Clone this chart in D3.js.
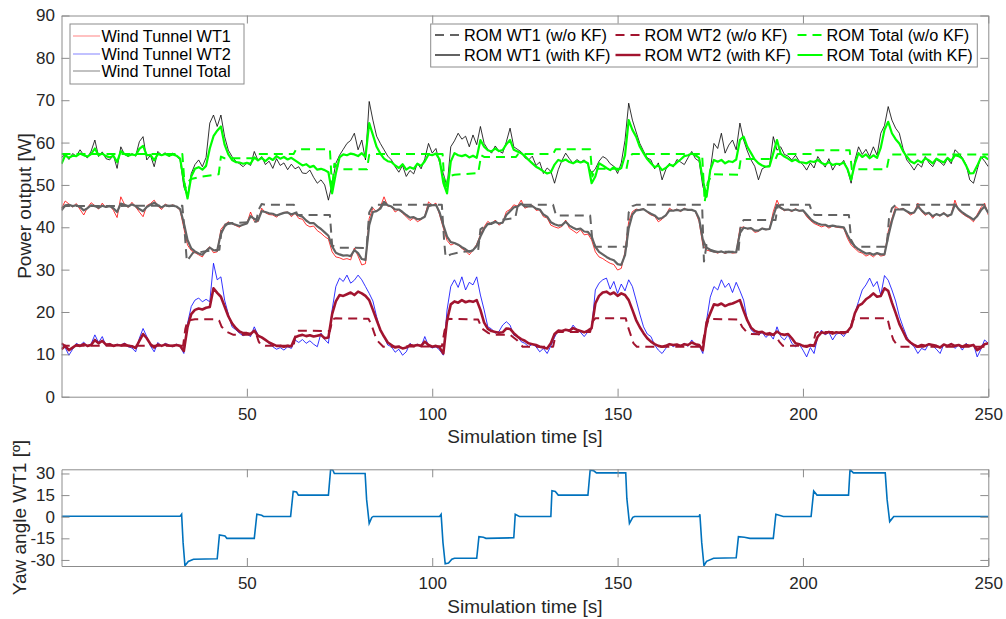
<!DOCTYPE html>
<html>
<head>
<meta charset="utf-8">
<script src="https://cdn.jsdelivr.net/npm/d3@7"></script>
<style>
body { margin: 0; background: #fff; }
text { font-family: Arial, "Liberation Sans", Helvetica, sans-serif; }
</style>
</head>
<body>
<div id="chart"></div>
<script>
// sample times of the measured / filtered signals (1 s)
const time = d3.range(0, 251);

const xTicks = [50, 100, 150, 200, 250];
const powerTicks = [0, 10, 20, 30, 40, 50, 60, 70, 80, 90];
const yawTicks = [-30, -15, 0, 15, 30];

// wind tunnel measurements
const wt1Tunnel = [
44.5,46.2,45.5,44.8,45.6,44.2,42.9,44.6,45.8,45.1,
44.3,45.7,44.6,45.2,44.0,42.3,47.2,45.4,44.7,45.9,
44.8,43.6,42.5,45.1,45.6,46.4,45.0,44.2,45.5,44.9,
45.3,44.8,44.0,39.8,35.8,34.5,34.0,33.5,33.0,34.6,
35.4,34.0,34.2,39.5,40.6,41.3,40.8,40.4,40.0,40.7,
40.9,43.6,41.4,41.3,44.5,43.4,43.0,42.9,42.4,43.1,
43.5,43.6,42.5,43.3,42.1,41.9,40.6,40.1,40.3,39.2,
38.6,37.8,37.2,34.2,33.0,32.8,32.4,32.6,32.3,35.1,
33.2,31.1,31.4,42.1,44.5,43.7,44.8,47.2,45.0,44.9,
43.6,44.2,43.3,42.5,41.6,42.2,41.3,41.8,42.6,46.0,
45.2,45.7,42.9,39.8,36.9,35.8,36.2,35.8,35.0,34.4,
33.5,34.6,36.0,38.2,40.1,41.4,40.7,41.7,40.5,41.1,
43.7,44.2,45.3,45.0,46.4,44.5,44.9,45.2,44.0,44.1,
42.5,42.2,40.5,40.1,39.8,40.2,41.7,39.8,39.2,38.6,
39.4,38.2,38.4,37.0,34.2,33.0,32.6,32.0,31.5,31.2,
29.9,30.3,34.2,41.3,43.7,44.3,44.1,44.4,43.5,42.9,
42.6,41.3,41.9,42.8,44.5,43.9,44.3,43.7,44.5,44.0,
44.2,43.7,41.3,35.8,34.6,34.4,34.2,33.9,34.3,33.8,
34.2,33.9,34.0,39.8,40.1,39.6,39.8,38.8,39.0,39.8,
39.4,39.6,43.7,46.4,44.5,43.9,44.2,43.7,44.4,43.8,
44.0,42.5,41.6,40.9,40.5,40.1,40.4,39.8,40.3,40.0,
39.9,39.8,37.4,35.8,35.0,34.2,33.9,33.2,33.6,33.0,
33.8,33.2,33.4,39.0,42.1,44.9,44.2,44.5,43.6,42.9,
43.4,45.7,43.7,42.8,43.4,42.1,43.2,42.6,43.5,42.4,
43.1,46.4,44.0,43.2,42.6,42.1,41.3,43.0,44.6,45.7,
42.9];

const wt2Tunnel = [
12.4,11.6,9.8,11.2,12.6,12.1,12.9,11.8,12.5,14.6,
12.8,14.2,12.0,12.6,11.9,12.4,12.1,12.7,11.8,11.5,
10.6,13.8,16.1,14.2,12.0,10.6,12.8,11.9,12.6,12.2,
11.8,12.4,11.9,10.2,17.3,21.3,22.8,23.3,22.4,23.0,
22.4,31.5,27.6,28.3,22.8,19.5,16.5,15.8,15.0,14.4,
14.8,14.2,16.5,14.6,14.0,13.4,12.6,11.8,11.2,11.6,
11.0,11.8,11.4,13.4,12.8,13.5,12.6,13.2,12.4,11.8,
15.0,13.5,12.6,20.5,26.0,28.0,27.2,28.7,26.8,27.5,
28.7,27.6,26.0,24.4,22.6,18.9,15.6,14.2,12.2,11.8,
10.5,11.2,9.8,10.6,12.6,11.9,12.4,11.8,14.2,12.0,
11.5,11.8,11.0,9.8,20.5,26.0,27.6,25.8,28.3,25.2,
27.0,26.4,28.3,24.0,20.5,16.5,16.0,15.0,15.4,16.9,
17.7,16.9,14.5,14.2,13.0,12.6,11.8,12.4,11.8,10.6,
11.4,10.2,12.0,14.0,15.7,15.2,15.9,15.4,16.9,15.8,
15.2,14.2,15.3,16.0,25.2,26.8,27.6,28.0,25.4,27.2,
24.4,26.6,25.0,27.6,26.0,22.8,19.5,16.5,14.8,14.2,
12.2,11.0,10.2,11.4,12.6,11.8,12.4,12.0,12.6,11.9,
13.4,12.2,12.0,10.2,18.0,23.5,26.0,25.2,27.6,25.8,
26.8,24.6,27.0,25.0,22.8,18.1,15.8,15.0,14.6,15.2,
14.0,14.8,13.6,16.5,14.2,13.4,14.6,12.6,11.8,12.4,
11.0,9.4,11.6,10.2,14.2,15.7,14.6,15.2,13.4,14.8,
15.0,14.2,15.6,16.5,19.7,22.5,25.2,26.4,28.0,26.0,
27.2,24.0,28.6,27.5,25.2,22.6,19.0,16.5,14.2,12.6,
11.8,10.2,11.4,11.0,12.6,12.0,11.2,10.2,12.4,11.8,
12.6,11.4,12.2,11.0,12.6,11.8,12.4,9.4,11.2,13.4,
12.6];

const totalTunnel = [
56.5,57.2,56.0,57.4,56.8,58.3,57.0,56.4,58.0,60.6,
56.7,57.8,56.2,55.9,57.0,53.9,59.0,57.2,56.7,57.4,
56.8,60.2,61.4,55.9,57.0,54.3,57.9,57.0,57.6,56.7,
57.5,56.9,55.9,49.6,47.2,52.7,54.8,55.9,54.3,56.5,
64.6,66.5,63.8,66.5,61.4,58.2,56.7,55.6,55.0,54.3,
55.2,54.6,57.9,55.8,56.7,54.8,55.6,53.9,56.2,54.6,
55.2,53.6,54.9,53.8,54.3,52.8,52.7,53.5,51.8,50.4,
51.2,50.0,46.4,50.2,55.1,57.0,58.4,59.8,60.5,62.2,
58.3,60.6,55.9,69.7,65.3,61.5,59.8,58.3,56.8,55.9,
54.3,53.0,54.6,52.0,53.4,52.6,55.1,53.8,56.2,59.8,
57.5,58.6,55.2,52.7,49.6,59.0,60.4,62.2,60.8,61.5,
59.0,61.8,59.5,63.8,59.8,58.4,57.5,59.2,58.0,57.5,
60.2,63.4,59.0,58.4,57.8,56.4,55.9,56.8,54.6,55.4,
52.7,54.0,53.2,50.4,53.6,55.8,57.5,56.2,55.1,56.0,
55.4,55.9,54.8,52.7,53.8,55.6,56.7,56.2,55.0,54.4,
52.7,55.2,60.5,69.3,65.3,62.5,59.8,58.0,56.4,55.9,
53.8,55.2,51.2,53.6,55.1,54.2,56.0,55.4,54.8,56.4,
57.9,56.2,55.6,49.6,47.2,53.5,59.8,58.6,62.2,57.5,
59.4,60.6,58.3,64.6,60.6,58.0,55.9,54.4,51.2,53.8,
54.3,54.6,61.4,58.2,59.0,57.2,56.8,55.9,57.0,55.6,
54.8,53.5,55.2,54.0,56.7,55.4,54.2,56.2,53.5,55.0,
54.6,55.8,53.6,50.4,55.8,59.0,57.2,58.4,56.7,59.0,
57.0,62.2,64.0,68.5,65.3,63.4,62.2,58.6,55.9,54.8,
53.5,55.0,54.2,56.7,55.2,54.3,56.0,55.4,54.6,56.2,
55.0,58.3,57.5,56.4,54.8,51.2,50.4,53.6,56.7,55.6,
54.3];

// ROM with Kalman filter
const wt1KF = [
44.0,45.2,45.3,45.0,45.2,44.8,44.0,44.5,45.2,45.0,
44.6,45.1,44.8,45.0,44.5,43.6,45.6,45.3,44.9,45.4,
45.0,44.3,43.8,44.8,45.3,45.8,45.2,44.7,45.2,45.0,
45.1,44.9,44.3,41.0,37.0,35.0,34.3,33.8,33.5,34.4,
35.2,34.6,34.5,38.5,40.2,41.0,40.9,40.6,40.3,40.6,
40.9,42.6,42.0,41.6,43.8,43.6,43.3,43.2,42.8,43.1,
43.4,43.5,43.0,43.4,42.8,42.5,41.6,41.0,41.0,40.2,
39.6,38.8,38.0,35.5,34.0,33.6,33.3,33.4,33.2,34.6,
33.9,32.5,32.3,40.5,43.6,43.8,44.4,46.0,45.2,44.9,
44.2,44.2,43.6,42.9,42.3,42.4,41.9,42.0,42.5,45.0,
45.2,45.3,43.5,40.5,37.8,36.5,36.3,35.9,35.3,34.8,
34.2,34.6,35.6,37.8,39.6,40.8,40.8,41.3,40.9,41.1,
42.9,43.8,44.7,44.9,45.6,44.9,44.9,45.0,44.4,44.2,
43.0,42.5,41.2,40.7,40.4,40.5,41.3,40.4,39.9,39.5,
39.7,39.0,38.9,37.8,35.4,34.2,33.6,33.0,32.5,32.2,
31.3,31.1,33.4,39.8,43.0,44.0,44.1,44.3,43.7,43.2,
42.8,42.0,42.2,42.8,44.0,43.9,44.1,43.9,44.3,44.1,
44.1,43.8,42.0,37.0,35.2,34.7,34.4,34.1,34.3,34.0,
34.2,34.1,34.1,38.6,39.9,39.7,39.8,39.2,39.2,39.7,
39.5,39.6,42.6,45.3,44.6,44.1,44.2,43.9,44.2,43.9,
44.0,43.0,42.0,41.3,40.9,40.6,40.6,40.2,40.4,40.2,
40.1,40.0,38.2,36.5,35.5,34.8,34.3,33.8,33.9,33.5,
33.9,33.6,33.6,37.8,41.5,44.2,44.2,44.3,43.8,43.3,
43.5,44.9,44.0,43.2,43.4,42.6,43.1,42.8,43.3,42.7,
43.0,45.4,44.3,43.5,42.9,42.4,41.8,42.6,44.0,44.9,
43.4];

const wt2KF = [
11.2,12.0,11.0,11.6,12.2,12.0,12.4,12.0,12.2,13.4,
12.6,13.2,12.3,12.4,12.0,12.2,12.1,12.4,12.0,11.9,
11.5,13.2,14.8,13.8,12.4,11.6,12.3,12.0,12.3,12.1,
12.0,12.2,12.0,10.8,16.5,19.5,20.5,20.8,20.6,21.0,
21.2,25.6,24.5,23.6,21.3,19.0,17.3,16.2,15.4,15.0,
15.0,14.8,15.6,14.4,14.0,13.4,12.8,12.4,12.0,12.0,
11.8,12.0,11.9,14.0,14.4,14.6,14.3,14.5,14.2,14.4,
14.6,13.8,14.0,19.5,22.5,24.0,23.8,24.2,24.6,24.0,
24.8,24.4,23.8,22.8,20.5,18.1,15.8,14.2,12.8,12.2,
11.6,11.8,11.4,11.6,12.2,12.0,12.2,12.0,13.0,12.2,
11.8,12.0,11.6,10.2,18.0,21.8,22.5,22.2,22.8,22.3,
22.6,22.4,22.8,20.5,17.5,16.0,15.5,15.3,15.1,15.2,
16.1,16.0,15.0,14.2,13.6,13.2,12.6,12.4,12.2,11.8,
11.6,11.4,12.6,14.8,15.6,15.5,15.8,15.6,16.2,15.8,
15.5,15.2,15.6,16.2,22.0,23.8,24.6,24.8,24.2,24.6,
23.8,24.4,24.0,22.8,20.5,18.1,16.4,15.0,13.8,13.0,
12.4,12.0,11.8,12.0,12.4,12.2,12.3,12.0,12.4,12.2,
12.8,12.4,12.2,11.0,17.5,19.7,21.8,21.6,22.0,21.4,
21.8,22.0,22.4,22.8,20.3,18.0,16.3,15.5,15.2,15.3,
14.8,15.0,14.6,15.4,14.8,14.6,14.8,13.8,12.6,12.4,
12.0,11.8,12.2,12.0,14.2,15.2,15.0,15.3,14.9,15.2,
15.1,15.0,15.4,16.5,19.7,21.5,22.0,23.0,23.6,24.4,
23.6,23.8,25.6,25.0,22.2,19.8,17.2,15.4,13.6,12.8,
12.2,11.8,12.2,12.0,12.4,12.2,12.0,11.6,12.3,12.0,
12.4,12.0,12.2,11.8,12.2,12.0,12.2,11.0,11.6,12.4,
12.6];

const totalKF = [
55.0,57.0,56.4,56.9,56.8,57.4,57.0,56.7,57.3,58.6,
57.0,57.4,56.8,56.5,56.9,55.4,58.0,57.3,56.9,57.2,
57.0,58.5,59.2,57.0,57.1,55.8,57.3,57.0,57.3,56.9,
57.2,56.9,56.2,51.0,46.8,52.0,53.8,54.2,53.6,54.5,
58.6,61.5,62.8,63.8,59.5,57.2,55.9,55.4,55.3,55.0,
55.2,55.0,56.5,55.8,56.4,55.6,56.4,55.9,56.8,56.2,
56.6,56.0,56.4,55.8,55.2,54.6,54.9,54.2,54.5,53.6,
53.8,53.5,53.0,48.0,52.7,56.5,57.2,57.0,57.4,57.2,
56.8,57.5,56.6,64.6,61.8,59.0,57.4,56.2,55.6,55.4,
54.6,54.0,54.9,53.6,54.2,53.8,55.0,54.5,55.6,57.2,
57.0,57.4,56.0,50.5,48.0,55.5,57.5,57.0,56.8,57.1,
56.5,56.9,56.4,60.6,59.0,58.2,57.9,58.6,58.0,58.2,
59.6,60.6,58.3,57.9,57.5,56.8,55.9,55.1,54.3,53.8,
53.2,52.7,53.0,54.8,55.9,55.6,56.0,55.4,55.1,55.6,
55.3,55.6,55.1,50.4,52.0,55.1,54.6,54.0,53.5,54.2,
53.5,54.0,57.0,65.3,63.0,61.4,59.0,57.5,56.1,55.1,
54.2,54.6,53.5,54.0,54.8,54.5,55.3,56.0,56.8,57.0,
57.4,57.0,56.4,51.2,47.2,53.5,55.9,55.5,55.9,55.1,
55.6,55.4,56.0,60.6,61.4,59.0,57.5,56.0,55.1,54.6,
54.3,54.4,57.5,60.6,57.4,56.7,56.2,55.6,56.0,55.4,
55.3,55.1,55.6,55.4,55.9,55.2,54.8,55.4,54.7,55.0,
54.9,55.3,53.8,51.2,55.0,57.5,56.6,57.2,56.3,57.0,
56.4,58.8,63.0,64.9,62.2,60.8,59.8,58.0,56.7,55.6,
55.1,55.8,55.3,56.3,55.8,55.1,56.2,55.7,55.3,56.4,
55.7,57.0,56.8,56.2,54.6,52.7,52.8,54.5,56.4,56.7,
56.0];

// ROM without Kalman filter (breakpoints: time, value)
const wt1NoKFTime = [0,1,32.6,33.3,33.8,35.5,38,41,42.6,43.2,44,46,52.5,53.2,54,55,62.7,63.6,72.4,73,74,82.3,83,84,85,102.6,103.2,103.6,105,108,112.4,113,114,116,119,122.4,123,124,132.6,133.4,142.6,143.2,144,152.4,153,154,155,172.8,173.3,174,175,176,182.6,183.2,184,192.6,193.2,194,201.8,202.6,203.2,212.4,213,214,222.6,223.2,224,225,250];
const wt1NoKFValue = [44.5,45.0,45.1,38.0,32.0,34.0,34.2,34.6,34.7,39.5,40.6,41.0,41.3,44.2,45.5,45.3,45.3,42.9,42.9,35.8,35.2,35.1,43.5,45.0,45.3,45.3,37.0,33.0,33.6,34.2,34.6,39.5,40.2,41.0,41.8,42.2,44.8,45.3,45.3,42.8,42.8,36.8,35.4,35.4,43.5,45.0,45.3,45.3,31.9,35.8,34.5,34.2,34.2,40.5,41.7,41.7,45.0,45.3,45.3,43.2,42.9,42.9,37.0,35.4,35.4,42.0,44.5,45.3,45.3];

const wt2NoKFTime = [0,1,32.8,33.4,34,36,42,42.5,43.2,44.6,46.4,52.6,53.2,53.8,55,62.6,63.3,64,72.4,73.1,74,82.8,83.6,85,86.8,102.6,103.3,104.2,112.4,113.4,115.2,116.5,121,122.8,124.4,132.6,133.4,134,142.6,143.3,144,152.2,152.8,154.3,155.2,172.8,173.6,174.6,182.6,183.6,184.8,186,192.6,193.6,194.6,202.6,203.4,204,212.6,213.4,214,222.8,223.6,224.4,225.4,226.3,250];
const wt2NoKFValue = [12.6,12.0,12.0,16.0,18.0,18.3,18.3,18.0,16.5,15.3,14.6,14.6,13.0,12.2,12.0,12.0,15.4,15.6,15.5,18.3,18.5,18.4,17.0,13.4,11.8,11.9,15.5,18.4,18.2,16.1,15.0,14.6,14.6,13.4,11.8,11.8,15.0,15.3,15.3,17.8,18.5,18.5,16.5,12.6,11.8,11.8,15.5,18.4,18.2,16.5,15.3,14.8,14.6,13.0,12.0,12.0,15.0,15.3,15.3,18.0,18.5,18.5,15.5,13.4,12.2,11.8,11.8];

const totalNoKFTime = [0,32.6,33.3,34,35,38,42.4,43,44,52.6,53.2,62.6,63.3,72.4,73,73.6,75,76,82.4,83,84,102.8,103.4,104.4,106,112.4,113.2,114,122.6,123.2,132.6,133.3,142.6,143.2,144,152.4,153,154,172.8,173.5,174.3,175.5,182.6,183.2,184,192.6,193.2,202.4,203,212.6,213.2,222.6,223.2,224,250];
const totalNoKFValue = [57.3,57.3,49.0,50.6,51.4,52.0,52.5,56.7,56.3,56.3,57.3,57.3,58.4,58.4,49.0,55.0,54.0,53.7,53.7,57.1,57.3,57.3,48.8,52.0,52.4,52.8,57.0,56.6,56.6,57.3,57.3,58.4,58.4,52.0,53.8,53.8,56.5,57.3,57.3,46.0,50.5,52.5,52.4,56.0,56.1,56.1,57.3,57.3,58.2,58.2,53.7,53.7,56.5,57.2,57.2];

// yaw angle of WT1 (breakpoints)
const yawTime = [0,32,32.4,32.8,33.3,34.2,35.6,42,42.6,44.1,44.6,52,52.7,54,54.5,61.8,62.5,63.4,63.9,72,72.6,73.2,73.6,81.9,82.3,83,83.7,84.1,102,102.4,102.9,103.5,104.4,105.3,106,112,112.6,113.8,114.5,122,122.4,123.5,132,132.3,133.2,134,142,142.6,143.5,144.3,152.2,152.5,153.2,154.1,154.6,172,172.2,172.7,173.3,174,175.9,182,182.6,184.2,185.7,192,192.7,194.7,202.2,202.9,203.8,212.3,212.7,213.6,222.2,222.7,223.4,224.5,250];
const yawValue = [0.3,0.3,1.7,-18,-34,-31,-29.5,-29.2,-12.6,-13.4,-15,-15,1.7,1,0.2,0.2,17.6,17.1,15,15,33,32.3,30,30,12,-4.6,-0.5,0.2,0.2,1.7,-18,-32.7,-32.2,-29.5,-28.8,-28.8,-13.8,-14.3,-15,-14.6,1.7,0.2,0.2,18,17.5,15,15,32.3,32,30.4,30.4,12.7,-4.6,-0.4,0.2,0.2,1.7,-18,-34,-31,-28.8,-28.5,-13.8,-14.2,-15,-15,1.7,0.2,0.2,17.8,15,15,32.8,30.4,30.4,12,-3.4,0.2,0.2];

const gray = "#636363", darkRed = "#A2142F", green = "#00FF00";
const axisColor = "#8c8c8c", textColor = "#262626";

const svg = d3.select("#chart").append("svg")
    .attr("width", 1006).attr("height", 619);

const x = d3.scaleLinear().domain([0, 250]).range([61.5, 988.3]);
const yP = d3.scaleLinear().domain([0, 90]).range([396.7, 15.5]);
const yY = d3.scaleLinear().domain([-34.2, 32.9]).range([566, 469.3]);

function drawAxes(yScale, ticks, top, bottom) {
    let left = x.range()[0], right = x.range()[1];
    let gb = svg.append("g").attr("transform", "translate(0," + bottom + ")")
        .call(d3.axisBottom(x).tickValues(xTicks).tickSizeInner(-8).tickSizeOuter(0).tickPadding(11));
    let gt = svg.append("g").attr("transform", "translate(0," + top + ")")
        .call(d3.axisTop(x).tickValues(xTicks).tickSizeInner(-8).tickSizeOuter(0).tickFormat(""));
    let gl = svg.append("g").attr("transform", "translate(" + left + ",0)")
        .call(d3.axisLeft(yScale).tickValues(ticks).tickSizeInner(-8).tickSizeOuter(0).tickPadding(6.5)
            .tickFormat(d => String(d)));
    let gr = svg.append("g").attr("transform", "translate(" + right + ",0)")
        .call(d3.axisRight(yScale).tickValues(ticks).tickSizeInner(-8).tickSizeOuter(0).tickFormat(""));
    [gb, gt, gl, gr].forEach(g => {
        g.selectAll("path.domain").attr("stroke", axisColor).attr("stroke-width", 1);
        g.selectAll(".tick line").attr("stroke", axisColor).attr("stroke-width", 1);
        g.selectAll(".tick text").attr("fill", textColor).attr("font-size", "17px")
            .attr("font-family", "Arial, 'Liberation Sans', Helvetica, sans-serif");
    });
}

// clip areas
const defs = svg.append("defs");
defs.append("clipPath").attr("id", "clipTop").append("rect")
    .attr("x", 61.5).attr("y", 15.5).attr("width", 988.3 - 61.5).attr("height", 396.7 - 15.5);
defs.append("clipPath").attr("id", "clipBot").append("rect")
    .attr("x", 61.5).attr("y", 469.3).attr("width", 988.3 - 61.5).attr("height", 566 - 469.3);

const lineP = d3.line().x(d => x(d[0])).y(d => yP(d[1]));
const lineY = d3.line().x(d => x(d[0])).y(d => yY(d[1]));

const series = [
    {t: time, v: wt1Tunnel, color: "#FF0000", w: 0.8},
    {t: time, v: wt2Tunnel, color: "#0000FF", w: 0.8},
    {t: time, v: totalTunnel, color: "#000000", w: 0.8},
    {t: wt1NoKFTime, v: wt1NoKFValue, color: gray, w: 2, dash: "9,6"},
    {t: wt2NoKFTime, v: wt2NoKFValue, color: darkRed, w: 2, dash: "9,6"},
    {t: totalNoKFTime, v: totalNoKFValue, color: green, w: 2, dash: "9,6"},
    {t: time, v: wt1KF, color: gray, w: 2.2},
    {t: time, v: wt2KF, color: darkRed, w: 2.6},
    {t: time, v: totalKF, color: green, w: 2.2}
];

const plotTop = svg.append("g").attr("clip-path", "url(#clipTop)");
series.forEach(s => {
    plotTop.append("path")
        .datum(d3.zip(s.t, s.v))
        .attr("d", lineP)
        .attr("fill", "none")
        .attr("stroke", s.color)
        .attr("stroke-width", s.w)
        .attr("stroke-linejoin", "round")
        .attr("stroke-dasharray", s.dash || null);
});

svg.append("g").attr("clip-path", "url(#clipBot)")
    .append("path")
    .datum(d3.zip(yawTime, yawValue))
    .attr("d", lineY)
    .attr("fill", "none")
    .attr("stroke", "#0072BD")
    .attr("stroke-width", 1.6);

drawAxes(yP, powerTicks, 15.5, 396.7);
drawAxes(yY, yawTicks, 469.3, 566);

// axis labels
function label(txt, tx, ty, rot) {
    svg.append("text")
        .attr("transform", "translate(" + tx + "," + ty + ")" + (rot ? " rotate(-90)" : ""))
        .attr("text-anchor", "middle")
        .attr("font-size", "19px")
        .attr("fill", textColor)
        .text(txt);
}
label("Simulation time [s]", 524.9, 443.3, false);
label("Simulation time [s]", 524.9, 613.3, false);
label("Power output [W]", 31, 206, true);
label("Yaw angle WT1 [º]", 26, 517.6, true);

// legend, wind tunnel
const leg1 = svg.append("g");
leg1.append("rect").attr("x", 70).attr("y", 24).attr("width", 174).attr("height", 60)
    .attr("fill", "#fff").attr("stroke", axisColor).attr("stroke-width", 1);
const leg1Items = [["Wind Tunnel WT1", "#FF0000"], ["Wind Tunnel WT2", "#0000FF"], ["Wind Tunnel Total", "#000000"]];
const leg1Rows = [36, 54, 71];
leg1Items.forEach((it, i) => {
    leg1.append("line").attr("x1", 73).attr("x2", 100).attr("y1", leg1Rows[i]).attr("y2", leg1Rows[i])
        .attr("stroke", it[1]).attr("stroke-width", 1.4).attr("stroke-opacity", 0.35);
    leg1.append("text").attr("x", 101.5).attr("y", leg1Rows[i] + 5.8)
        .attr("font-size", "16.3px").attr("fill", "#000").text(it[0]);
});

// legend, ROM
const leg2 = svg.append("g");
leg2.append("rect").attr("x", 430.7).attr("y", 24).attr("width", 546.6).attr("height", 43)
    .attr("fill", "#fff").attr("stroke", axisColor).attr("stroke-width", 1);
const leg2Items = [
    ["ROM WT1 (w/o KF)", gray, "9,6", 2], ["ROM WT2 (w/o KF)", darkRed, "9,6", 2], ["ROM Total (w/o KF)", green, "9,6", 2],
    ["ROM WT1 (with KF)", gray, null, 2], ["ROM WT2 (with KF)", darkRed, null, 2.4], ["ROM Total (with KF)", green, null, 2]
];
const leg2Cols = [435, 615.5, 797.5];
const leg2Rows = [35, 55];
leg2Items.forEach((it, i) => {
    let cx = leg2Cols[i % 3], cy = leg2Rows[Math.floor(i / 3)];
    leg2.append("line").attr("x1", cx).attr("x2", cx + 25).attr("y1", cy).attr("y2", cy)
        .attr("stroke", it[1]).attr("stroke-width", it[3]).attr("stroke-dasharray", it[2]);
    leg2.append("text").attr("x", cx + 29).attr("y", cy + 5.8)
        .attr("font-size", "16.3px").attr("fill", "#000").text(it[0]);
});
</script>
</body>
</html>
